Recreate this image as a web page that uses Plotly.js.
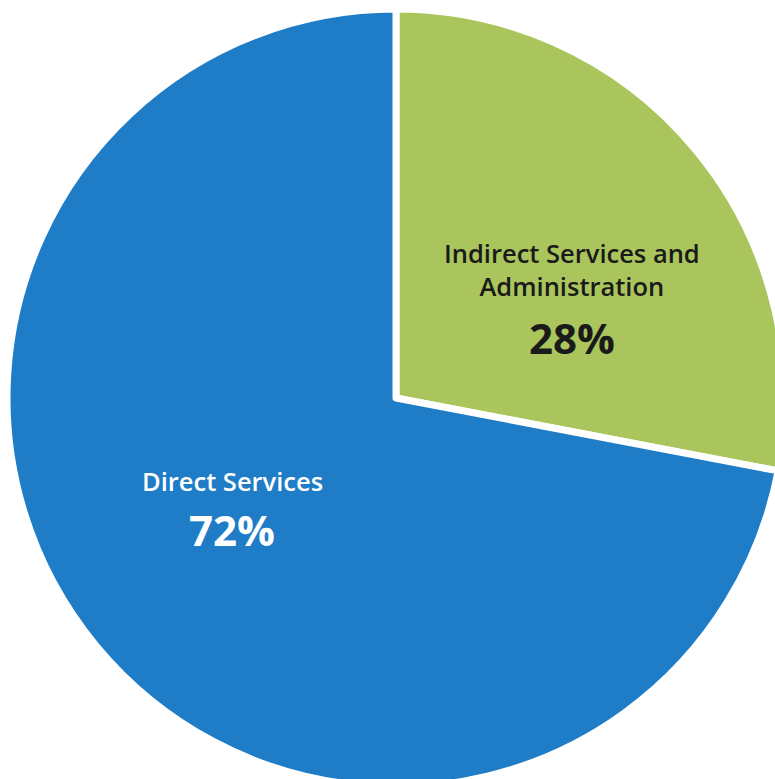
<!DOCTYPE html>
<html>
<head>
<meta charset="utf-8">
<script src="https://cdn.plot.ly/plotly-3.0.1.min.js"></script>
<style>
html, body { margin: 0; padding: 0; overflow: hidden; background: #fff; }
#chart { width: 790px; height: 790px; }
</style>
</head>
<body>
<div id="chart"></div>
<script>
const categories = ["Indirect Services and<br>Administration", "Direct Services"];
const values = [28, 72];
const pctLabels = ["28%", "72%"];
const colors = ["#A9C55B", "#1F7DC8"];
const textColors = ["#1a1a1a", "#ffffff"];

const W = 790, H = 790;
const cx = 396, cy = 398, r = 389;

const trace = {
  type: "pie",
  labels: categories,
  values: values,
  sort: false,
  direction: "clockwise",
  rotation: 0,
  textinfo: "none",
  hoverinfo: "label+percent",
  marker: { colors: colors, line: { color: "#ffffff", width: 7 } },
  domain: { x: [(cx - r) / W, (cx + r) / W], y: [1 - (cy + r) / H, 1 - (cy - r) / H] },
  showlegend: false
};

// label anchor positions (pixels) for each slice: [x, category label y, percent y]
const labelPos = [[572, 269, 337], [232, 481, 529]];
const annotations = [];
categories.forEach((c, i) => {
  annotations.push({
    x: labelPos[i][0] / W, y: 1 - labelPos[i][1] / H, xref: "paper", yref: "paper",
    xanchor: "center", yanchor: "middle",
    text: c, showarrow: false, align: "center",
    font: { family: "Open Sans, Noto Sans, sans-serif", size: 25.5, weight: 600, color: textColors[i] }
  });
  annotations.push({
    x: labelPos[i][0] / W, y: 1 - labelPos[i][2] / H, xref: "paper", yref: "paper",
    xanchor: "center", yanchor: "middle",
    text: "<b>" + pctLabels[i] + "</b>", showarrow: false,
    font: { family: "Open Sans, Noto Sans, sans-serif", size: 42, color: textColors[i] }
  });
});

Plotly.newPlot("chart", [trace], {
  width: W, height: H,
  margin: { l: 0, r: 0, t: 0, b: 0 },
  paper_bgcolor: "#ffffff",
  annotations: annotations
}, { displayModeBar: false, staticPlot: true });
</script>
</body>
</html>
